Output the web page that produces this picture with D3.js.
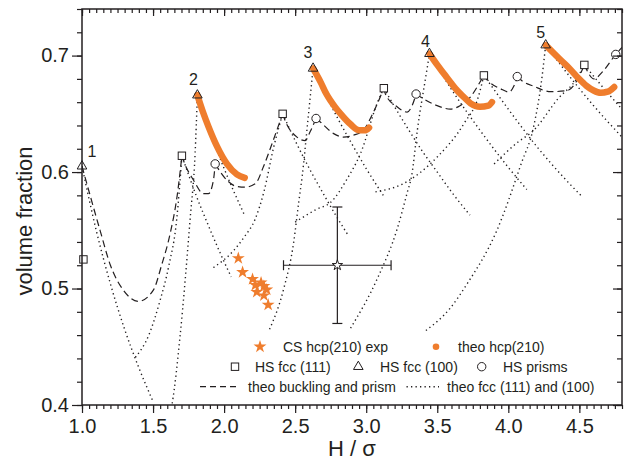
<!DOCTYPE html>
<html>
<head>
<meta charset="utf-8">
<script src="https://cdn.jsdelivr.net/npm/d3@7"></script>
<style>
  body { margin: 0; background: #fff; }
  text { font-family: "Liberation Sans", Arial, sans-serif; fill: #231f20; }
</style>
</head>
<body>
<div id="chart"></div>
<script>
var margin = { top: 9, right: 2, bottom: 61, left: 82 },
  width = 624 - margin.left - margin.right,
  height = 466 - margin.top - margin.bottom;

var orange = "#ef7d2d", ink = "#231f20";

// tick labels
var xTicks = [1.0, 1.5, 2.0, 2.5, 3.0, 3.5, 4.0, 4.5];
var yTicks = [0.4, 0.5, 0.6, 0.7];

// HS fcc (100) peaks (triangles) with their layer numbers
var triH = [1.0, 1.812, 2.626, 3.445, 4.263];
var triPhi = [0.605, 0.666, 0.689, 0.7016, 0.709];
var peakLabels = ["1", "2", "3", "4", "5"];

// HS fcc (111) (squares)
var sqH = [1.01, 1.703, 2.412, 3.124, 3.828, 4.535];
var sqPhi = [0.525, 0.614, 0.650, 0.672, 0.683, 0.692];

// HS prisms (circles)
var circH = [1.937, 2.647, 3.351, 4.063, 4.756];
var circPhi = [0.607, 0.646, 0.667, 0.682, 0.701];

// CS hcp(210) exp (stars)
var starH = [2.10, 2.13, 2.20, 2.22, 2.23, 2.28, 2.30, 2.28, 2.31, 2.26];
var starPhi = [0.526, 0.514, 0.508, 0.503, 0.497, 0.502, 0.499, 0.494, 0.486, 0.505];

// mean experimental point with error bars
var errH = 2.797, errPhi = 0.52, errHLo = 2.418, errHHi = 3.175, errPhiLo = 0.47, errPhiHi = 0.57;

// theo hcp(210)
var hcp2 = [[1.812, 0.666], [1.85, 0.652], [1.89, 0.639], [1.95, 0.622], [2.02, 0.607], [2.09, 0.598], [2.145, 0.595]];
var hcp3 = [[2.626, 0.689], [2.68, 0.677], [2.72, 0.667], [2.78, 0.656], [2.82, 0.650], [2.89, 0.641], [2.95, 0.636], [3.0, 0.636], [3.02, 0.638]];
var hcp4 = [[3.445, 0.7016], [3.5, 0.692], [3.55, 0.684], [3.6, 0.676], [3.64, 0.670], [3.69, 0.664], [3.734, 0.659], [3.8, 0.656], [3.86, 0.657], [3.885, 0.660]];
var hcp5 = [[4.263, 0.709], [4.32, 0.702], [4.37, 0.696], [4.43, 0.689], [4.49, 0.681], [4.55, 0.674], [4.6, 0.670], [4.65, 0.668], [4.7, 0.669], [4.745, 0.673]];
var hcpCurves = [hcp2, hcp3, hcp4, hcp5];

// theo buckling and prism (dashed), one piece between neighbouring markers
var buck1 = [[1.0, 0.605], [1.127, 0.550], [1.2, 0.52], [1.291, 0.4986], [1.397, 0.489], [1.502, 0.4986], [1.56, 0.52], [1.62, 0.547], [1.67, 0.58], [1.703, 0.614]];
var buck2 = [[1.703, 0.614], [1.714, 0.610], [1.785, 0.593], [1.855, 0.5815], [1.89, 0.5815], [1.925, 0.593], [1.937, 0.607]];
var buck3 = [[1.937, 0.607], [2.02, 0.593], [2.08, 0.588], [2.149, 0.587], [2.22, 0.590], [2.278, 0.605], [2.348, 0.628], [2.412, 0.650]];
var buck4 = [[2.412, 0.650], [2.43, 0.644], [2.513, 0.630], [2.57, 0.627], [2.607, 0.635], [2.647, 0.646]];
var buck5 = [[2.647, 0.646], [2.677, 0.643], [2.771, 0.633], [2.84, 0.630], [2.91, 0.6316], [2.98, 0.636], [3.053, 0.652], [3.124, 0.672]];
var buck6 = [[3.124, 0.672], [3.135, 0.667], [3.217, 0.656], [3.288, 0.6515], [3.323, 0.657], [3.351, 0.667]];
var buck7 = [[3.351, 0.667], [3.382, 0.6645], [3.5, 0.657], [3.593, 0.654], [3.66, 0.657], [3.734, 0.6645], [3.79, 0.675], [3.828, 0.683]];
var buck8 = [[3.828, 0.683], [3.87, 0.677], [3.946, 0.6715], [4.004, 0.6687], [4.04, 0.674], [4.063, 0.682]];
var buck9 = [[4.063, 0.682], [4.1, 0.678], [4.18, 0.6736], [4.3, 0.669], [4.415, 0.670], [4.48, 0.678], [4.535, 0.692]];
var buck10 = [[4.535, 0.692], [4.604, 0.680], [4.662, 0.686], [4.756, 0.701], [4.8, 0.707]];
var buckling = [buck1, buck2, buck3, buck4, buck5, buck6, buck7, buck8, buck9, buck10];

// theo fcc (111) and (100) (dotted), rising and falling branches of every peak
var t1Fall = [[1.0, 0.605], [1.1, 0.55], [1.2, 0.504], [1.3, 0.465], [1.4, 0.432], [1.5, 0.403]];
var s2Rise = [[1.376, 0.441], [1.47, 0.46], [1.55, 0.49], [1.61, 0.519], [1.667, 0.56], [1.703, 0.614]];
var s2Fall = [[1.703, 0.614], [1.8, 0.581], [1.9, 0.551], [2.0, 0.523], [2.05, 0.51]];
var t2Rise = [[1.615, 0.39], [1.634, 0.401], [1.69, 0.459], [1.761, 0.56], [1.796, 0.616], [1.812, 0.666]];
var t2Fall = [[1.812, 0.666], [1.9, 0.635], [2.0, 0.603], [2.14, 0.564]];
var s3Rise = [[1.925, 0.518], [2.07, 0.533], [2.14, 0.544], [2.22, 0.56], [2.28, 0.583], [2.35, 0.622], [2.412, 0.650]];
var s3Fall = [[2.412, 0.650], [2.5, 0.627], [2.6, 0.603], [2.7, 0.581], [2.8, 0.560], [2.877, 0.545]];
var t3Rise = [[2.32, 0.465], [2.42, 0.50], [2.49, 0.54], [2.525, 0.574], [2.55, 0.597], [2.59, 0.645], [2.626, 0.689]];
var t3Fall = [[2.626, 0.689], [2.7, 0.670], [2.8, 0.646], [2.9, 0.624], [3.0, 0.603], [3.12, 0.58]];
var s4Rise = [[2.5, 0.557], [2.65, 0.568], [2.75, 0.574], [2.865, 0.594], [2.96, 0.616], [3.08, 0.66], [3.124, 0.672]];
var s4Fall = [[3.124, 0.672], [3.2, 0.656], [3.3, 0.636], [3.4, 0.617], [3.5, 0.600], [3.6, 0.583], [3.73, 0.563]];
var t4Rise = [[2.89, 0.466], [3.08, 0.509], [3.22, 0.552], [3.29, 0.583], [3.32, 0.597], [3.36, 0.636], [3.43, 0.69], [3.445, 0.7016]];
var t4Fall = [[3.445, 0.7016], [3.6, 0.671], [3.8, 0.636], [4.0, 0.604], [4.13, 0.585]];
var s5Rise = [[3.065, 0.583], [3.26, 0.590], [3.5, 0.613], [3.69, 0.642], [3.79, 0.665], [3.828, 0.683]];
var s5Fall = [[3.828, 0.683], [4.0, 0.654], [4.2, 0.622], [4.4, 0.594], [4.51, 0.58]];
var t5Rise = [[3.42, 0.464], [3.59, 0.483], [3.71, 0.504], [3.92, 0.55], [4.09, 0.607], [4.18, 0.64], [4.23, 0.675], [4.263, 0.709]];
var t5Fall = [[4.263, 0.709], [4.4, 0.687], [4.6, 0.657], [4.8, 0.630]];
var s6Rise = [[3.9, 0.607], [4.06, 0.625], [4.18, 0.636], [4.35, 0.663], [4.48, 0.68], [4.535, 0.692]];
var s6Fall = [[4.535, 0.692], [4.65, 0.675], [4.8, 0.654]];
var fccLines = [t1Fall, s2Rise, s2Fall, t2Rise, t2Fall, s3Rise, s3Fall, t3Rise, t3Fall, s4Rise, s4Fall,
  t4Rise, t4Fall, s5Rise, s5Fall, t5Rise, t5Fall, s6Rise, s6Fall];

var svg = d3.select("#chart").append("svg")
  .attr("width", width + margin.left + margin.right)
  .attr("height", height + margin.top + margin.bottom)
  .append("g")
  .attr("transform", "translate(" + margin.left + "," + margin.top + ")");

var x = d3.scaleLinear().domain([1.0, 4.8]).range([0, width]);
var y = d3.scaleLinear().domain([0.4, 0.74]).range([height, 0]);

svg.append("clipPath").attr("id", "plot")
  .append("rect").attr("width", width).attr("height", height);

var line = d3.line()
  .x(function(d) { return x(d[0]); })
  .y(function(d) { return y(d[1]); })
  .curve(d3.curveMonotoneX);

var plot = svg.append("g").attr("clip-path", "url(#plot)");

plot.selectAll(".fcc")
  .data(fccLines)
  .enter().append("path")
  .attr("class", "fcc")
  .attr("d", line)
  .attr("fill", "none")
  .attr("stroke", ink)
  .attr("stroke-width", 1.4)
  .attr("stroke-dasharray", "1.3,3.2");

plot.selectAll(".buck")
  .data(buckling)
  .enter().append("path")
  .attr("class", "buck")
  .attr("d", line)
  .attr("fill", "none")
  .attr("stroke", ink)
  .attr("stroke-width", 1.2)
  .attr("stroke-dasharray", "7,4");

plot.selectAll(".hcp")
  .data(hcpCurves)
  .enter().append("path")
  .attr("class", "hcp")
  .attr("d", line)
  .attr("fill", "none")
  .attr("stroke", orange)
  .attr("stroke-width", 6.5)
  .attr("stroke-linecap", "round");

// error bars
var eb = svg.append("g").attr("stroke", ink).attr("stroke-width", 1.2);
eb.append("line").attr("x1", x(errHLo)).attr("x2", x(errHHi)).attr("y1", y(errPhi)).attr("y2", y(errPhi));
eb.append("line").attr("x1", x(errH)).attr("x2", x(errH)).attr("y1", y(errPhiLo)).attr("y2", y(errPhiHi));
[errHLo, errHHi].forEach(function(h) {
  eb.append("line").attr("x1", x(h)).attr("x2", x(h)).attr("y1", y(errPhi) - 5).attr("y2", y(errPhi) + 5);
});
[errPhiLo, errPhiHi].forEach(function(p) {
  eb.append("line").attr("x1", x(errH) - 5).attr("x2", x(errH) + 5).attr("y1", y(p)).attr("y2", y(p));
});
svg.append("path")
  .attr("d", d3.symbol(d3.symbolStar, 34)())
  .attr("transform", "translate(" + x(errH) + "," + y(errPhi) + ")")
  .attr("fill", "#fff").attr("stroke", ink).attr("stroke-width", 1);

// markers
var star = d3.symbol(d3.symbolStar, 52)();
var tri = d3.symbol(d3.symbolTriangle, 40)();

svg.selectAll(".star")
  .data(starH)
  .enter().append("path")
  .attr("class", "star")
  .attr("d", star)
  .attr("transform", function(d, i) { return "translate(" + x(d) + "," + y(starPhi[i]) + ")"; })
  .attr("fill", orange);

svg.selectAll(".sq")
  .data(sqH)
  .enter().append("rect")
  .attr("class", "sq")
  .attr("x", function(d) { return x(d) - 3.7; })
  .attr("y", function(d, i) { return y(sqPhi[i]) - 3.7; })
  .attr("width", 7.4).attr("height", 7.4)
  .attr("fill", "#fff").attr("stroke", ink).attr("stroke-width", 1);

svg.selectAll(".circ")
  .data(circH)
  .enter().append("circle")
  .attr("class", "circ")
  .attr("cx", function(d) { return x(d); })
  .attr("cy", function(d, i) { return y(circPhi[i]); })
  .attr("r", 4.2)
  .attr("fill", "#fff").attr("stroke", ink).attr("stroke-width", 1);

svg.selectAll(".tri")
  .data(triH)
  .enter().append("path")
  .attr("class", "tri")
  .attr("d", tri)
  .attr("transform", function(d, i) { return "translate(" + x(d) + "," + y(triPhi[i]) + ")"; })
  .attr("fill", "none").attr("stroke", ink).attr("stroke-width", 1);

var labelOffset = [[10, -9], [-4, -10], [-5, -10], [-4, -7], [-5, -7]];
svg.selectAll(".peak")
  .data(peakLabels)
  .enter().append("text")
  .attr("class", "peak")
  .attr("x", function(d, i) { return x(triH[i]) + labelOffset[i][0]; })
  .attr("y", function(d, i) { return y(triPhi[i]) + labelOffset[i][1]; })
  .attr("text-anchor", "middle")
  .style("font-size", "16px")
  .text(function(d) { return d; });

// axes
var fmt = d3.format(".1f");
var xMinor = d3.range(1.0, 4.801, 0.05), yMinor = d3.range(0.4, 0.7401, 0.02);

function styleAxis(g) {
  g.select(".domain").remove();
  g.selectAll("line").attr("stroke", ink).attr("stroke-width", 1.2);
  g.selectAll("text").style("font-size", "20px").attr("fill", ink).style("font-family", "'Liberation Sans', Arial, sans-serif");
}

svg.append("g").attr("transform", "translate(0," + height + ")")
  .call(d3.axisBottom(x).tickValues(xMinor).tickSize(4).tickFormat("")).call(styleAxis);
svg.append("g").attr("transform", "translate(0," + height + ")")
  .call(d3.axisBottom(x).tickValues(xTicks).tickSize(8).tickPadding(6).tickFormat(fmt)).call(styleAxis);
svg.append("g")
  .call(d3.axisBottom(x).tickValues(xMinor).tickSize(4).tickFormat("")).call(styleAxis);
svg.append("g")
  .call(d3.axisBottom(x).tickValues(xTicks).tickSize(7).tickFormat("")).call(styleAxis);

svg.append("g")
  .call(d3.axisLeft(y).tickValues(yMinor).tickSize(5).tickFormat("")).call(styleAxis);
svg.append("g")
  .call(d3.axisLeft(y).tickValues(yTicks).tickSize(10).tickPadding(3).tickFormat(fmt)).call(styleAxis);
svg.append("g").attr("transform", "translate(" + width + ",0)")
  .call(d3.axisLeft(y).tickValues(yMinor).tickSize(5).tickFormat("")).call(styleAxis);
svg.append("g").attr("transform", "translate(" + width + ",0)")
  .call(d3.axisLeft(y).tickValues(yTicks).tickSize(9).tickFormat("")).call(styleAxis);

svg.append("rect")
  .attr("width", width).attr("height", height)
  .attr("fill", "none").attr("stroke", ink).attr("stroke-width", 1.5);

svg.append("text")
  .attr("x", width / 2).attr("y", height + 51)
  .attr("text-anchor", "middle")
  .style("font-size", "22px")
  .text("H / σ");

svg.append("text")
  .attr("transform", "translate(" + (32 - margin.left) + "," + (221 - margin.top) + ") rotate(-90)")
  .attr("text-anchor", "middle")
  .style("font-size", "22px")
  .text("volume fraction");

// legend
var lg = svg.append("g").attr("transform", "translate(" + (-margin.left) + "," + (-margin.top) + ")");
function legText(tx, ty, s) {
  lg.append("text").attr("x", tx).attr("y", ty + 5).style("font-size", "14px").text(s);
}
lg.append("path").attr("d", d3.symbol(d3.symbolStar, 52)()).attr("transform", "translate(260,346.7)").attr("fill", orange);
legText(283, 346.7, "CS hcp(210) exp");
lg.append("circle").attr("cx", 436).attr("cy", 346.7).attr("r", 3.3).attr("fill", orange);
legText(458, 346.7, "theo hcp(210)");
lg.append("rect").attr("x", 231.3).attr("y", 363).attr("width", 7.4).attr("height", 7.4)
  .attr("fill", "#fff").attr("stroke", ink).attr("stroke-width", 1);
legText(255, 366.7, "HS fcc (111)");
lg.append("path").attr("d", tri).attr("transform", "translate(358.3,366.7)")
  .attr("fill", "none").attr("stroke", ink).attr("stroke-width", 1);
legText(380, 366.7, "HS fcc (100)");
lg.append("circle").attr("cx", 481.7).attr("cy", 366.7).attr("r", 4.2)
  .attr("fill", "#fff").attr("stroke", ink).attr("stroke-width", 1);
legText(503, 366.7, "HS prisms");
lg.append("line").attr("x1", 200).attr("x2", 238).attr("y1", 386.7).attr("y2", 386.7)
  .attr("stroke", ink).attr("stroke-width", 1.2).attr("stroke-dasharray", "6,4");
legText(248, 386.7, "theo buckling and prism");
lg.append("line").attr("x1", 406.5).attr("x2", 439).attr("y1", 386.7).attr("y2", 386.7)
  .attr("stroke", ink).attr("stroke-width", 1.4).attr("stroke-dasharray", "1.3,3.2");
legText(447, 386.7, "theo fcc (111) and (100)");
</script>
</body>
</html>
